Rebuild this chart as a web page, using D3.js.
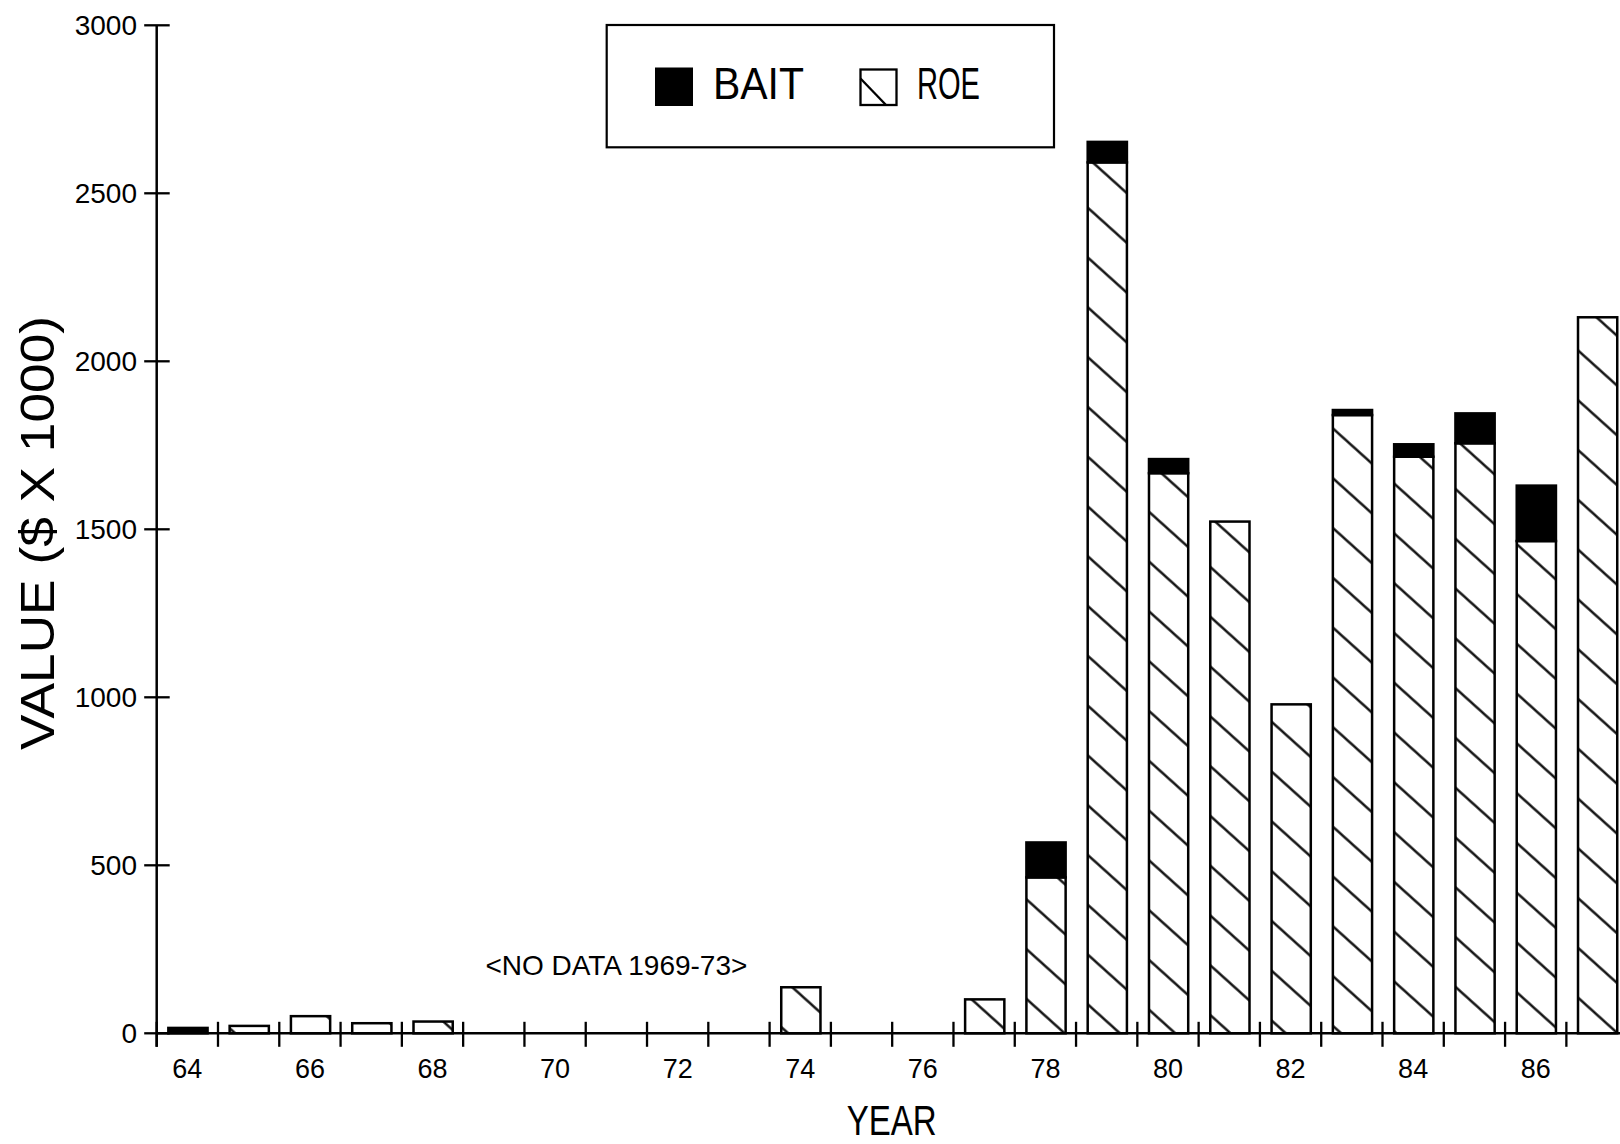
<!DOCTYPE html>
<html>
<head>
<meta charset="utf-8">
<script src="https://cdn.jsdelivr.net/npm/d3@7"></script>
<style>
  body { margin: 0; background: white; }
  text { font-family: "Liberation Sans", Arial, sans-serif; fill: black; }
</style>
</head>
<body>
<div id="canvas"></div>
<script>
"use strict"

/* values, $ x 1000 */
let years = ["64","65","66","67","68","69","70","71","72","73","74","75","76","77","78","79","80","81","82","83","84","85","86","87"]
let roeValues  = [0, 22, 51, 30, 35, null, null, null, null, null, 137, 0, 0, 101, 464, 2592, 1667, 1523, 979, 1840, 1716, 1756, 1465, 2131]
let baitValues = [16, 0, 0, 0, 0, null, null, null, null, null, 0, 0, 0, 0, 104, 61, 42, 0, 0, 15, 37, 89, 165, 0]
let yTicks = [0, 500, 1000, 1500, 2000, 2500, 3000]
let seriesNames = ["BAIT", "ROE"]
let noDataNote = "<NO DATA 1969-73>"

let drawing = d3.select("#canvas")
    .append("svg")
    .attr("width", 1620)
    .attr("height", 1144)

/* scales - one band per year, bars only use part of it */
let x = d3.scaleBand()
    .domain(years)
    .range([156.7, 156.7 + 61.29 * years.length])
    .padding(0)

let y = d3.scaleLinear()
    .domain([0, 3000])
    .range([1033.3, 25.3])

let barW = x.bandwidth() * 0.64
let barOff = x.bandwidth() * 0.19

/* hatching for roe, lines going down to the right */
let defs = drawing.append("defs")
let hatch = defs.append("pattern")
    .attr("id", "hatch")
    .attr("patternUnits", "userSpaceOnUse")
    .attr("width", 12)
    .attr("height", 37)
    .attr("patternTransform", "rotate(42)")
hatch.append("rect")
    .attr("width", 12)
    .attr("height", 37)
    .attr("fill", "white")
hatch.append("line")
    .attr("x1", 0).attr("y1", 18.5)
    .attr("x2", 12).attr("y2", 18.5)
    .attr("stroke", "black")
    .attr("stroke-width", 2.3)

let table = years.map((yr, i) => ({year: yr, roe: roeValues[i], bait: baitValues[i]}))
    .filter(d => d.roe !== null && (d.roe + d.bait) > 0)

/* roe part of each bar */
drawing.append("g")
    .selectAll("rect")
    .data(table.filter(d => d.roe > 0))
    .join("rect")
    .attr("x", d => x(d.year) + barOff)
    .attr("y", d => y(d.roe))
    .attr("width", barW)
    .attr("height", d => y(0) - y(d.roe))
    .attr("fill", "url(#hatch)")
    .attr("stroke", "black")
    .attr("stroke-width", 2.5)

/* bait sits on top */
drawing.append("g")
    .selectAll("rect")
    .data(table.filter(d => d.bait > 0))
    .join("rect")
    .attr("x", d => x(d.year) + barOff)
    .attr("y", d => y(d.roe + d.bait))
    .attr("width", barW)
    .attr("height", d => y(d.roe) - y(d.roe + d.bait))
    .attr("fill", "black")
    .attr("stroke", "black")
    .attr("stroke-width", 2.5)

/* y axis */
let yAxis = drawing.append("g")
yAxis.append("line")
    .attr("x1", x(years[0])).attr("x2", x(years[0]))
    .attr("y1", y(3000)).attr("y2", y(0) + 13.5)
    .attr("stroke", "black")
    .attr("stroke-width", 2.5)
yAxis.selectAll(".tk")
    .data(yTicks)
    .join("line")
    .attr("x1", x(years[0]) - 12.5)
    .attr("x2", x(years[0]) + 13)
    .attr("y1", d => y(d))
    .attr("y2", d => y(d))
    .attr("stroke", "black")
    .attr("stroke-width", 2.3)
yAxis.selectAll("text")
    .data(yTicks)
    .join("text")
    .attr("x", 137)
    .attr("y", d => y(d))
    .attr("dy", "0.36em")
    .attr("text-anchor", "end")
    .attr("font-size", 28)
    .text(d => d)

/* x axis - ticks sit between years, labels on even years */
let xAxis = drawing.append("g")
xAxis.append("line")
    .attr("x1", x(years[0])).attr("x2", 1620)
    .attr("y1", y(0)).attr("y2", y(0))
    .attr("stroke", "black")
    .attr("stroke-width", 2.5)
xAxis.selectAll("line.tk")
    .data(years)
    .join("line")
    .attr("class", "tk")
    .attr("x1", d => x(d)).attr("x2", d => x(d))
    .attr("y1", y(0) - 11.5)
    .attr("y2", y(0) + 13.5)
    .attr("stroke", "black")
    .attr("stroke-width", 2.3)
xAxis.selectAll("text")
    .data(years.filter(d => +d % 2 == 0))
    .join("text")
    .attr("x", d => x(d) + x.bandwidth() / 2)
    .attr("y", 1078)
    .attr("text-anchor", "middle")
    .attr("font-size", 27)
    .text(d => d)

/* axis titles */
drawing.append("text")
    .attr("x", 891.7)
    .attr("y", 1135)
    .attr("text-anchor", "middle")
    .attr("font-size", 42)
    .attr("textLength", 90)
    .attr("lengthAdjust", "spacingAndGlyphs")
    .text("YEAR")

drawing.append("text")
    .attr("transform", "translate(54,533) rotate(-90)")
    .attr("text-anchor", "middle")
    .attr("font-size", 49)
    .attr("textLength", 434)
    .attr("lengthAdjust", "spacingAndGlyphs")
    .text("VALUE ($ X 1000)")

/* the note about the gap */
drawing.append("text")
    .attr("x", (x("69") + x("73") + x.bandwidth()) / 2)
    .attr("y", y(175))
    .attr("text-anchor", "middle")
    .attr("font-size", 28)
    .text(noDataNote)

/* legend box */
let legend = drawing.append("g")
legend.append("rect")
    .attr("x", 606.7).attr("y", 25)
    .attr("width", 447.3).attr("height", 122.3)
    .attr("fill", "white")
    .attr("stroke", "black")
    .attr("stroke-width", 2.2)

legend.append("rect")
    .attr("x", 655).attr("y", 67.5)
    .attr("width", 38).attr("height", 38.5)
    .attr("fill", "black")

legend.append("rect")
    .attr("x", 860.5).attr("y", 69.5)
    .attr("width", 36).attr("height", 35.5)
    .attr("fill", "white")
    .attr("stroke", "black")
    .attr("stroke-width", 2.3)
legend.append("line")
    .attr("x1", 860.5).attr("y1", 78.5)
    .attr("x2", 886).attr("y2", 105)
    .attr("stroke", "black")
    .attr("stroke-width", 2.3)

legend.selectAll("text")
    .data(seriesNames)
    .join("text")
    .attr("x", (d, i) => [713, 917][i])
    .attr("y", 99.3)
    .attr("font-size", 45)
    .attr("textLength", (d, i) => [91, 63][i])
    .attr("lengthAdjust", "spacingAndGlyphs")
    .text(d => d)
</script>
</body>
</html>
